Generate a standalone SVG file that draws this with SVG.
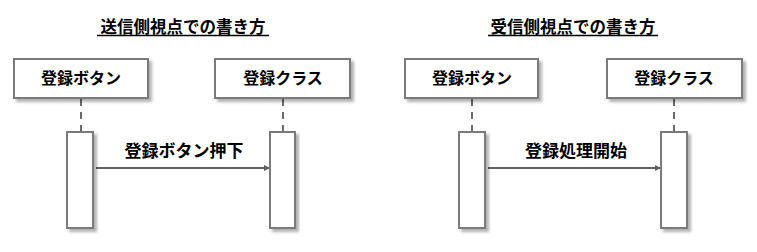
<svg xmlns="http://www.w3.org/2000/svg" width="757" height="252" viewBox="0 0 757 252">
<defs>
<style>
text{font-family:"Noto Sans CJK JP","Noto Sans CJK SC",sans-serif;font-weight:bold;fill:#000;text-anchor:middle}
.t{font-size:16.5px}
.n{font-size:16px}
.m{font-size:17px}
.box{fill:#fff;stroke:#7a7a7a;stroke-width:2;filter:url(#sh)}
.life{stroke:#6a6a6a;stroke-width:2;stroke-dasharray:7,6;fill:none}
.msg{stroke:#606060;stroke-width:2;fill:none;marker-end:url(#ah)}
.ul{stroke:#000;stroke-width:1.5}
</style>
<filter id="sh" x="-20%" y="-20%" width="140%" height="140%">
<feDropShadow dx="3" dy="3" stdDeviation="1.5" flood-color="#000" flood-opacity="0.3"/>
</filter>
<marker id="ah" markerWidth="6" markerHeight="6" refX="5" refY="3" orient="auto" markerUnits="userSpaceOnUse">
<path d="M0,0 L6,3 L0,6 z" fill="#606060"/>
</marker>
</defs>

<g id="title-left">
<text class="t" x="183" y="33">送信側視点での書き方</text>
<line class="ul" x1="97" y1="35.5" x2="269" y2="35.5"/>
</g>
<g id="title-right">
<text class="t" x="573" y="33">受信側視点での書き方</text>
<line class="ul" x1="488" y1="35.5" x2="658" y2="35.5"/>
</g>

<g id="connectors">
<line class="life" x1="81" y1="99" x2="81" y2="131"/>
<line class="life" x1="283" y1="99" x2="283" y2="131"/>
<line class="life" x1="472" y1="99" x2="472" y2="131"/>
<line class="life" x1="674" y1="99" x2="674" y2="131"/>
<line class="msg" x1="96" y1="168" x2="269" y2="168"/>
<line class="msg" x1="488" y1="168" x2="660" y2="168"/>
<text class="m" x="184" y="157">登録ボタン押下</text>
<text class="m" x="576" y="157">登録処理開始</text>
</g>

<g id="l-button">
<rect class="box" x="14" y="59" width="134" height="39"/>
<text class="n" x="81" y="84">登録ボタン</text>
</g>
<g id="l-class">
<rect class="box" x="215" y="59" width="135" height="39"/>
<text class="n" x="283" y="84">登録クラス</text>
</g>
<g id="l-act1"><rect class="box" x="67" y="132" width="26" height="96"/></g>
<g id="l-act2"><rect class="box" x="270" y="132" width="25" height="96"/></g>

<g id="r-button">
<rect class="box" x="405" y="59" width="133" height="39"/>
<text class="n" x="472" y="84">登録ボタン</text>
</g>
<g id="r-class">
<rect class="box" x="607" y="59" width="135" height="39"/>
<text class="n" x="674" y="84">登録クラス</text>
</g>
<g id="r-act1"><rect class="box" x="459" y="132" width="26" height="96"/></g>
<g id="r-act2"><rect class="box" x="661" y="132" width="26" height="96"/></g>
</svg>
